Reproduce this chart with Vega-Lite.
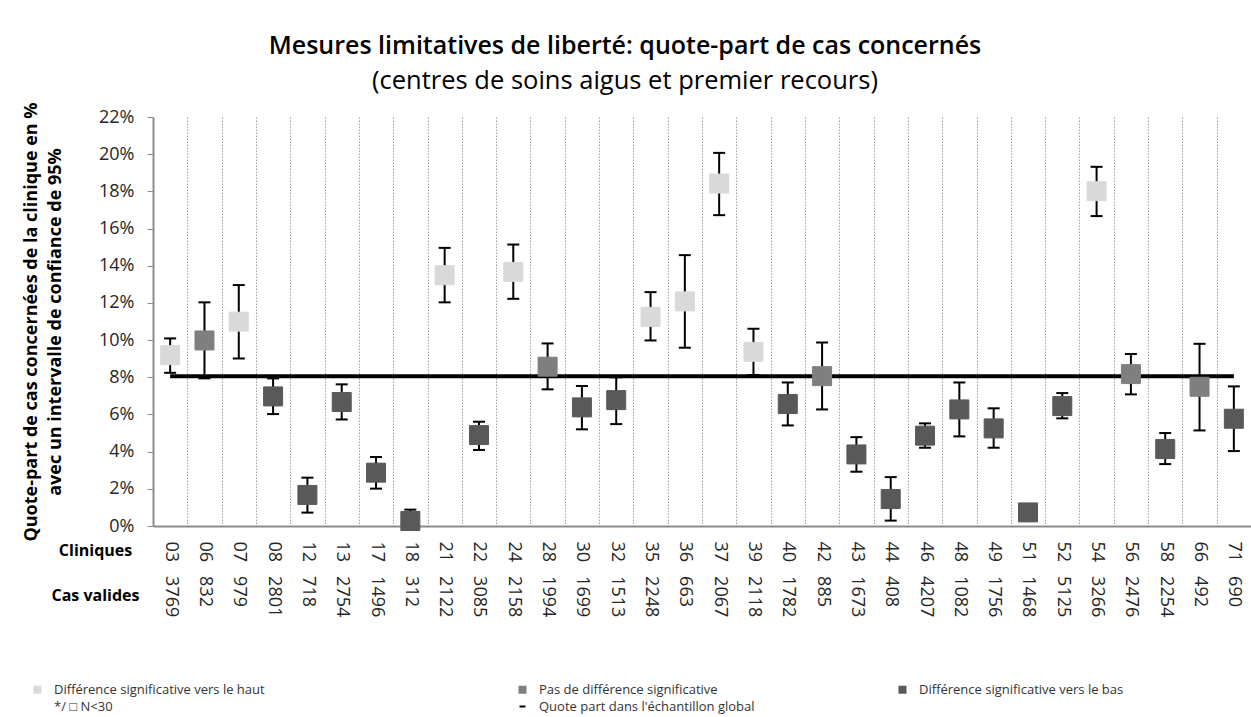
{
  "$schema": "https://vega.github.io/schema/vega-lite/v6.json",
  "autosize": {"type": "none"},
  "width": 1098,
  "height": 409,
  "padding": {"left": 153, "top": 117, "right": 0, "bottom": 191},
  "background": "white",
  "config": {
    "view": {"stroke": null}, "font": "Open Sans",
    "axisY": {
      "titleFont": "Open Sans", "titleFontSize": 18, "titleFontWeight": "bold", "titleColor": "#000000",
      "titleLineHeight": 24, "titlePadding": 34,
      "labelOverlap": false, "labelBound": false,
      "labelFont": "Open Sans", "labelFontSize": 18, "labelColor": "#262626", "labelPadding": 13,
      "tickSize": 6, "tickColor": "#8c8c8c", "domainColor": "#8c8c8c", "domainWidth": 2, "grid": false
    }
  },
  "title": {
    "text": "Mesures limitatives de liberté: quote-part de cas concernés",
    "subtitle": "(centres de soins aigus et premier recours)",
    "anchor": "middle", "frame": "group", "dx": -77, "offset": 7,
    "font": "Open Sans", "fontSize": 25, "fontWeight": 600, "color": "#000000",
    "subtitleFont": "Open Sans", "subtitleFontSize": 25.5, "subtitleColor": "#000000", "subtitlePadding": 10
  },
  "data": {"values": [
    {"clinique": "03 3769", "taux": 9.19, "ic_bas": 8.24, "ic_haut": 10.09, "groupe": "Différence significative vers le haut", "global": 8.06},
    {"clinique": "06 832", "taux": 9.98, "ic_bas": 7.94, "ic_haut": 12.03, "groupe": "Pas de différence significative", "global": 8.06},
    {"clinique": "07 979", "taux": 10.99, "ic_bas": 9.01, "ic_haut": 12.96, "groupe": "Différence significative vers le haut", "global": 8.06},
    {"clinique": "08 2801", "taux": 6.97, "ic_bas": 6.02, "ic_haut": 7.94, "groupe": "Différence significative vers le bas", "global": 8.06},
    {"clinique": "12 718", "taux": 1.67, "ic_bas": 0.72, "ic_haut": 2.6, "groupe": "Différence significative vers le bas", "global": 8.06},
    {"clinique": "13 2754", "taux": 6.67, "ic_bas": 5.73, "ic_haut": 7.62, "groupe": "Différence significative vers le bas", "global": 8.06},
    {"clinique": "17 1496", "taux": 2.87, "ic_bas": 2.01, "ic_haut": 3.71, "groupe": "Différence significative vers le bas", "global": 8.06},
    {"clinique": "18 312", "taux": 0.27, "ic_bas": 0.0, "ic_haut": 0.88, "groupe": "Différence significative vers le bas", "global": 8.06},
    {"clinique": "21 2122", "taux": 13.49, "ic_bas": 12.03, "ic_haut": 14.96, "groupe": "Différence significative vers le haut", "global": 8.06},
    {"clinique": "22 3085", "taux": 4.89, "ic_bas": 4.09, "ic_haut": 5.61, "groupe": "Différence significative vers le bas", "global": 8.06},
    {"clinique": "24 2158", "taux": 13.67, "ic_bas": 12.22, "ic_haut": 15.14, "groupe": "Différence significative vers le haut", "global": 8.06},
    {"clinique": "28 1994", "taux": 8.57, "ic_bas": 7.35, "ic_haut": 9.82, "groupe": "Pas de différence significative", "global": 8.06},
    {"clinique": "30 1699", "taux": 6.38, "ic_bas": 5.2, "ic_haut": 7.53, "groupe": "Différence significative vers le bas", "global": 8.06},
    {"clinique": "32 1513", "taux": 6.77, "ic_bas": 5.48, "ic_haut": 8.0, "groupe": "Différence significative vers le bas", "global": 8.06},
    {"clinique": "35 2248", "taux": 11.25, "ic_bas": 9.98, "ic_haut": 12.58, "groupe": "Différence significative vers le haut", "global": 8.06},
    {"clinique": "36 663", "taux": 12.08, "ic_bas": 9.59, "ic_haut": 14.57, "groupe": "Différence significative vers le haut", "global": 8.06},
    {"clinique": "37 2067", "taux": 18.42, "ic_bas": 16.72, "ic_haut": 20.07, "groupe": "Différence significative vers le haut", "global": 8.06},
    {"clinique": "39 2118", "taux": 9.37, "ic_bas": 8.12, "ic_haut": 10.61, "groupe": "Différence significative vers le haut", "global": 8.06},
    {"clinique": "40 1782", "taux": 6.56, "ic_bas": 5.41, "ic_haut": 7.72, "groupe": "Différence significative vers le bas", "global": 8.06},
    {"clinique": "42 885", "taux": 8.06, "ic_bas": 6.27, "ic_haut": 9.87, "groupe": "Pas de différence significative", "global": 8.06},
    {"clinique": "43 1673", "taux": 3.85, "ic_bas": 2.92, "ic_haut": 4.78, "groupe": "Différence significative vers le bas", "global": 8.06},
    {"clinique": "44 408", "taux": 1.45, "ic_bas": 0.29, "ic_haut": 2.63, "groupe": "Différence significative vers le bas", "global": 8.06},
    {"clinique": "46 4207", "taux": 4.86, "ic_bas": 4.21, "ic_haut": 5.52, "groupe": "Différence significative vers le bas", "global": 8.06},
    {"clinique": "48 1082", "taux": 6.27, "ic_bas": 4.82, "ic_haut": 7.72, "groupe": "Différence significative vers le bas", "global": 8.06},
    {"clinique": "49 1756", "taux": 5.25, "ic_bas": 4.21, "ic_haut": 6.33, "groupe": "Différence significative vers le bas", "global": 8.06},
    {"clinique": "51 1468", "taux": 0.73, "ic_bas": null, "ic_haut": null, "groupe": "Différence significative vers le bas", "global": 8.06},
    {"clinique": "52 5125", "taux": 6.45, "ic_bas": 5.79, "ic_haut": 7.15, "groupe": "Différence significative vers le bas", "global": 8.06},
    {"clinique": "54 3266", "taux": 18.01, "ic_bas": 16.67, "ic_haut": 19.32, "groupe": "Différence significative vers le haut", "global": 8.06},
    {"clinique": "56 2476", "taux": 8.17, "ic_bas": 7.08, "ic_haut": 9.25, "groupe": "Pas de différence significative", "global": 8.06},
    {"clinique": "58 2254", "taux": 4.14, "ic_bas": 3.33, "ic_haut": 5.0, "groupe": "Différence significative vers le bas", "global": 8.06},
    {"clinique": "66 492", "taux": 7.49, "ic_bas": 5.14, "ic_haut": 9.8, "groupe": "Pas de différence significative", "global": 8.06},
    {"clinique": "71 690", "taux": 5.77, "ic_bas": 4.03, "ic_haut": 7.51, "groupe": "Différence significative vers le bas", "global": 8.06}
  ]},
  "encoding": {
    "x": {
      "field": "clinique", "type": "nominal", "sort": null,
      "scale": {"paddingInner": 0, "paddingOuter": 0},
      "axis": {
        "title": ["Cliniques", "Cas valides"],
        "titleFont": "Open Sans", "titleFontSize": 16, "titleFontWeight": "bold", "titleColor": "#000000",
        "titleX": -58, "titleY": 16, "titleAlign": "center", "titleBaseline": "top", "titleAngle": 0, "titleLineHeight": 45,
        "labelAngle": 90, "labelFont": "Open Sans", "labelFontSize": 18, "labelColor": "#262626", "labelPadding": 15,
        "labelExpr": "replace(datum.label, ' ', '\u00a0\u00a0\u00a0')",
        "labelOverlap": false, "labelBound": false,
        "ticks": false, "domainColor": "#8c8c8c", "domainWidth": 2,
        "grid": true, "gridColor": "#a0a0a0", "gridDash": [1.5, 1.5], "gridWidth": 1, "tickBand": "extent"
      }
    }
  },
  "layer": [
    {
      "mark": {"type": "line", "color": "#000000", "strokeWidth": 4},
      "encoding": {
        "y": {
          "field": "global", "type": "quantitative",
          "scale": {"domain": [0, 22], "nice": false},
          "axis": {"title": ["Quote-part de cas concernées de la clinique en %", "avec un intervalle de confiance de 95%"], "values": [0, 2, 4, 6, 8, 10, 12, 14, 16, 18, 20, 22], "labelExpr": "datum.value + '%'"}
        }
      }
    },
    {
      "mark": {"type": "rule", "color": "#000000", "strokeWidth": 2},
      "encoding": {
        "y": {"field": "ic_bas", "type": "quantitative",
          "axis": {"title": ["Quote-part de cas concernées de la clinique en %", "avec un intervalle de confiance de 95%"], "values": [0, 2, 4, 6, 8, 10, 12, 14, 16, 18, 20, 22], "labelExpr": "datum.value + '%'"}},
        "y2": {"field": "ic_haut"}
      }
    },
    {
      "mark": {"type": "tick", "color": "#000000", "thickness": 2, "size": 12, "opacity": 1},
      "encoding": {"y": {"field": "ic_bas", "type": "quantitative",
        "axis": {"title": ["Quote-part de cas concernées de la clinique en %", "avec un intervalle de confiance de 95%"], "values": [0, 2, 4, 6, 8, 10, 12, 14, 16, 18, 20, 22], "labelExpr": "datum.value + '%'"}}}
    },
    {
      "mark": {"type": "tick", "color": "#000000", "thickness": 2, "size": 12, "opacity": 1},
      "encoding": {"y": {"field": "ic_haut", "type": "quantitative",
        "axis": {"title": ["Quote-part de cas concernées de la clinique en %", "avec un intervalle de confiance de 95%"], "values": [0, 2, 4, 6, 8, 10, 12, 14, 16, 18, 20, 22], "labelExpr": "datum.value + '%'"}}}
    },
    {
      "mark": {"type": "point", "shape": "square", "size": 361, "opacity": 1, "strokeWidth": 1},
      "encoding": {
        "y": {"field": "taux", "type": "quantitative",
          "axis": {"title": ["Quote-part de cas concernées de la clinique en %", "avec un intervalle de confiance de 95%"], "values": [0, 2, 4, 6, 8, 10, 12, 14, 16, 18, 20, 22], "labelExpr": "datum.value + '%'"}},
        "fill": {
          "field": "groupe", "type": "nominal",
          "scale": {
            "domain": ["Différence significative vers le haut", "Pas de différence significative", "Différence significative vers le bas", "*/ □ N<30", "Quote part dans l'échantillon global"],
            "range": ["#d9d9d9", "#7f7f7f", "#595959", "transparent", "transparent"]
          },
          "legend": {
            "orient": "none", "legendX": -122, "legendY": 566, "direction": "horizontal", "columns": 3,
            "gridAlign": "each", "columnPadding": 140, "rowPadding": 2, "title": null,
            "labelFont": "Open Sans", "labelFontSize": 13, "labelColor": "#333333", "labelOffset": 10, "labelLimit": 800,
            "labelExpr": "datum.label == 'Différence significative vers le haut' ? datum.label + '\u2800\u2800\u2800\u2800\u2800\u2800\u2800\u2800\u2800\u2800\u2800' : datum.label",
            "symbolSize": 36, "symbolStrokeWidth": 2
          }
        },
        "stroke": {
          "field": "groupe", "type": "nominal",
          "scale": {
            "domain": ["Différence significative vers le haut", "Pas de différence significative", "Différence significative vers le bas", "*/ □ N<30", "Quote part dans l'échantillon global"],
            "range": ["#d9d9d9", "#7f7f7f", "#595959", "transparent", "#000000"]
          },
          "legend": {
            "orient": "none", "legendX": -122, "legendY": 566, "direction": "horizontal", "columns": 3,
            "gridAlign": "each", "columnPadding": 140, "rowPadding": 2, "title": null,
            "labelFont": "Open Sans", "labelFontSize": 13, "labelColor": "#333333", "labelOffset": 10, "labelLimit": 800,
            "labelExpr": "datum.label == 'Différence significative vers le haut' ? datum.label + '\u2800\u2800\u2800\u2800\u2800\u2800\u2800\u2800\u2800\u2800\u2800' : datum.label",
            "symbolSize": 36, "symbolStrokeWidth": 2
          }
        },
        "shape": {
          "field": "groupe", "type": "nominal",
          "scale": {
            "domain": ["Différence significative vers le haut", "Pas de différence significative", "Différence significative vers le bas", "*/ □ N<30", "Quote part dans l'échantillon global"],
            "range": ["square", "square", "square", "square", "stroke"]
          },
          "legend": {
            "orient": "none", "legendX": -122, "legendY": 566, "direction": "horizontal", "columns": 3,
            "gridAlign": "each", "columnPadding": 140, "rowPadding": 2, "title": null,
            "labelFont": "Open Sans", "labelFontSize": 13, "labelColor": "#333333", "labelOffset": 10, "labelLimit": 800,
            "labelExpr": "datum.label == 'Différence significative vers le haut' ? datum.label + '\u2800\u2800\u2800\u2800\u2800\u2800\u2800\u2800\u2800\u2800\u2800' : datum.label",
            "symbolSize": 36, "symbolStrokeWidth": 2
          }
        }
      }
    }
  ]
}
